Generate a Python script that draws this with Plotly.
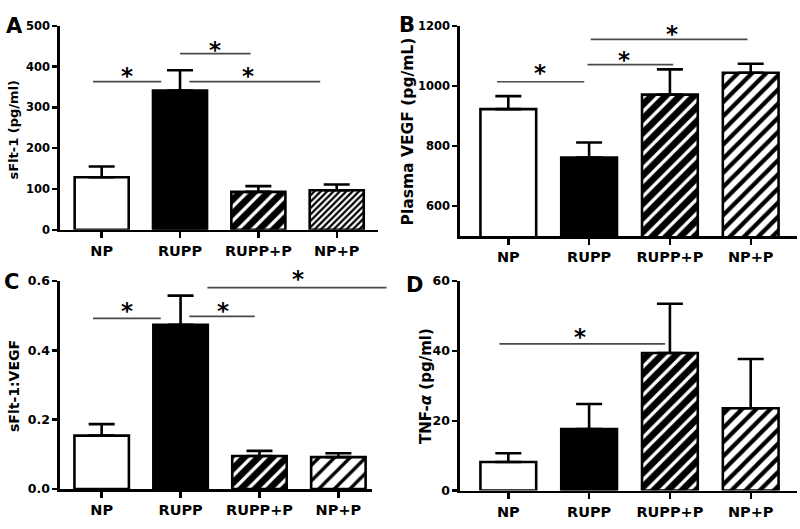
import plotly.graph_objects as go

categories = ["NP", "RUPP", "RUPP+P", "NP+P"]

# Panel A: sFlt-1 (pg/ml)
a_mean = [129, 341, 93, 97]
a_err = [26, 50, 14, 14]
# Panel B: Plasma VEGF (pg/mL)
b_mean = [923, 762, 971, 1044]
b_err = [43, 50, 84, 30]
# Panel C: sFlt-1:VEGF
c_mean = [0.154, 0.474, 0.095, 0.092]
c_err = [0.033, 0.084, 0.015, 0.011]
# Panel D: TNF-alpha (pg/ml)
d_mean = [8.2, 17.6, 39.4, 23.6]
d_err = [2.5, 7.2, 14.1, 14.1]

# significance brackets: start category pos, end category pos, level
a_sig_x0 = [-0.11, 1.0, 1.12]
a_sig_x1 = [0.76, 1.90, 2.79]
a_sig_y = [363, 432, 363]
a_star_x = [0.32, 1.45, 1.87]
a_star_y = [389, 452, 389]

b_sig_x0 = [-0.14, 0.98, 1.02]
b_sig_x1 = [0.94, 2.04, 2.96]
b_sig_y = [1014, 1071, 1155]
b_star_x = [0.39, 1.43, 2.02]
b_star_y = [1060, 1104, 1189]

c_sig_x0 = [-0.11, 1.11, 1.34]
c_sig_x1 = [0.75, 1.94, 3.61]
c_sig_y = [0.4925, 0.498, 0.581]
c_star_x = [0.32, 1.54, 2.49]
c_star_y = [0.528, 0.528, 0.621]

d_sig_x0 = [-0.11]
d_sig_x1 = [1.94]
d_sig_y = [42.0]
d_star_x = [0.89]
d_star_y = [45.4]

W, H = 800, 529

panels = [
    dict(letter="A", mean=a_mean, err=a_err, title="sFlt-1 (pg/ml)", title_size=13,
         tick_size=11.5,
         px=(60, 378), py=(18.3, 228.3), xr=(-0.532, 3.527), yr=(0, 500),
         tickvals=[0, 100, 200, 300, 400, 500], fmt="d",
         np_size=4.5, np_sol=0.5,
         sig=(a_sig_x0, a_sig_x1, a_sig_y), star=(a_star_x, a_star_y),
         letter_xy=(4, 4), title_xy=(13, 125)),
    dict(letter="B", mean=b_mean, err=b_err, title="Plasma VEGF (pg/mL)", title_size=15.5,
         tick_size=11.5,
         px=(460, 797), py=(18.3, 235), xr=(-0.598, 3.573), yr=(500, 1200),
         tickvals=[600, 800, 1000, 1200], fmt="d",
         np_size=10, np_sol=0.42,
         sig=(b_sig_x0, b_sig_x1, b_sig_y), star=(b_star_x, b_star_y),
         letter_xy=(397, 3), title_xy=(408, 127)),
    dict(letter="C", mean=c_mean, err=c_err, title="sFlt-1:VEGF", title_size=14,
         tick_size=12.5,
         px=(60, 372), py=(281, 495), xr=(-0.528, 3.426), yr=(0, 0.6),
         tickvals=[0, 0.2, 0.4, 0.6], fmt=".1f",
         np_size=11, np_sol=0.3,
         sig=(c_sig_x0, c_sig_x1, c_sig_y), star=(c_star_x, c_star_y),
         letter_xy=(2, 268), title_xy=(14, 389)),
    dict(letter="D", mean=d_mean, err=d_err, title="TNF-<i>α</i> (pg/ml)", title_size=15,
         tick_size=12.5,
         px=(460, 797), py=(281, 496.7), xr=(-0.598, 3.573), yr=(0, 60),
         tickvals=[0, 20, 40, 60], fmt="d",
         np_size=10, np_sol=0.42,
         sig=(d_sig_x0, d_sig_x1, d_sig_y), star=(d_star_x, d_star_y),
         letter_xy=(404, 271), title_xy=(426, 389)),
]

FONT = "DejaVu Sans"
fig = go.Figure()
shapes = []
annotations = []


def frac(v, rng):
    return (v - rng[0]) / (rng[1] - rng[0])


fills = ["white", "black", "black", "white"]
pshape = ["", "", "/", "/"]
pfg = ["black", "black", "white", "black"]

for i, p in enumerate(panels):
    n = "" if i == 0 else str(i + 1)
    xname, yname = "x" + n, "y" + n
    for k, cat in enumerate(categories):
        size = 10 if k == 2 else p["np_size"]
        sol = 0.33 if k == 2 else p["np_sol"]
        pat = dict(shape=pshape[k], fgcolor=pfg[k], bgcolor=fills[k],
                   size=size, solidity=sol, fillmode="replace") if pshape[k] else dict(shape="")
        fig.add_trace(go.Bar(
            x=[cat], y=[p["mean"][k]], xaxis=xname, yaxis=yname,
            width=0.69,
            marker=dict(color=fills[k], line=dict(color="black", width=2.6), pattern=pat),
            error_y=dict(type="data", symmetric=False, array=[p["err"][k]],
                         arrayminus=[0], color="black", thickness=2.6, width=13),
            showlegend=False,
        ))
    xd = [p["px"][0] / W, p["px"][1] / W]
    yd = [1 - p["py"][1] / H, 1 - p["py"][0] / H]
    fig.update_layout({
        ("xaxis" + n): dict(
            domain=xd, anchor=yname, range=list(p["xr"]), type="category",
            categoryorder="array", categoryarray=categories,
            showline=True, linecolor="black", linewidth=2.6,
            ticks="outside", ticklen=6, tickwidth=2.4, tickcolor="black",
            tickfont=dict(family=FONT, size=14.5, color="black", weight="bold"),
            showgrid=False, zeroline=False, fixedrange=True,
        ),
        ("yaxis" + n): dict(
            domain=yd, anchor=xname, range=list(p["yr"]),
            tickvals=p["tickvals"], tickformat=p["fmt"],
            showline=True, linecolor="black", linewidth=2.6,
            ticks="outside", ticklen=5, tickwidth=2.4, tickcolor="black",
            tickfont=dict(family=FONT, size=p["tick_size"], color="black", weight="bold"),
            showgrid=False, zeroline=False, fixedrange=True,
        ),
    })
    x0s, x1s, ys = p["sig"]
    for a, b, yv in zip(x0s, x1s, ys):
        shapes.append(dict(type="line", xref=xname + " domain", yref=yname,
                           x0=frac(a, p["xr"]), x1=frac(b, p["xr"]), y0=yv, y1=yv,
                           line=dict(color="#4a4a4a", width=1.7)))
    for sx, sy in zip(*p["star"]):
        annotations.append(dict(text="*", xref=xname + " domain", yref=yname + " domain",
                                x=frac(sx, p["xr"]), y=frac(sy, p["yr"]), showarrow=False,
                                xanchor="center", yanchor="middle", yshift=-5,
                                font=dict(family=FONT, size=23, color="black", weight="bold")))
    lx, ly = p["letter_xy"]
    annotations.append(dict(text=p["letter"], xref="paper", yref="paper",
                            x=lx / W, y=1 - ly / H, xanchor="left", yanchor="top",
                            showarrow=False,
                            font=dict(family=FONT, size=21, color="black", weight="bold")))
    tx, ty = p["title_xy"]
    annotations.append(dict(text=p["title"], xref="paper", yref="paper",
                            x=tx / W, y=1 - ty / H, xanchor="center", yanchor="middle",
                            textangle=-90, showarrow=False,
                            font=dict(family=FONT, size=p["title_size"], color="black",
                                      weight="bold")))

fig.update_layout(
    width=W, height=H, margin=dict(l=0, r=0, t=0, b=0),
    paper_bgcolor="white", plot_bgcolor="white", barmode="overlay",
    shapes=shapes, annotations=annotations, showlegend=False,
)

fig.write_html("out.html", config={"displayModeBar": False, "staticPlot": True},
               post_script="document.body.style.margin='0';document.body.style.overflow='hidden';")
